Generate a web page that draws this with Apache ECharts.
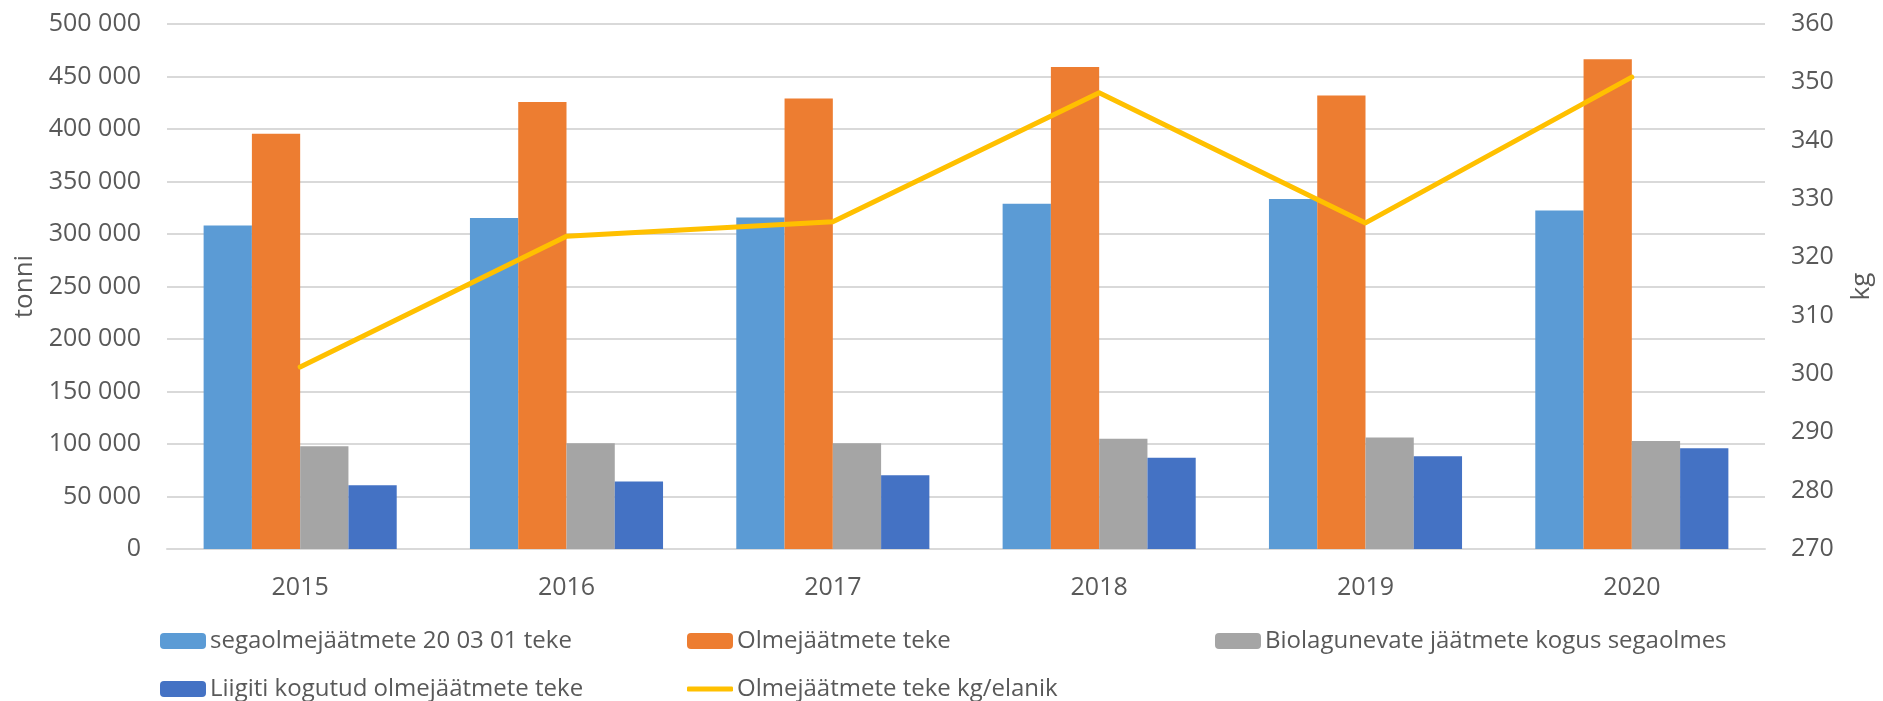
<!DOCTYPE html>
<html>
<head>
<meta charset="utf-8">
<script src="https://cdn.jsdelivr.net/npm/echarts@6/dist/echarts.min.js"></script>
<style>
html,body{margin:0;padding:0;background:#fff;}
#main{width:1883px;height:701px;}
</style>
</head>
<body>
<div id="main"></div>
<script>
const categories = ['2015', '2016', '2017', '2018', '2019', '2020'];
const segaolme = [308000, 315300, 315700, 328700, 333300, 322400];
const olme = [395500, 425800, 429000, 459000, 431900, 466400];
const bio = [97800, 100600, 100600, 104900, 106300, 102800];
const liigiti = [60700, 64300, 70300, 86900, 88300, 96000];
const kgElanik = [301.2, 323.6, 326.1, 348.2, 325.9, 350.9];

const seriesNames = [
  'segaolmejäätmete 20 03 01 teke',
  'Olmejäätmete teke',
  'Biolagunevate jäätmete kogus segaolmes',
  'Liigiti kogutud olmejäätmete teke',
  'Olmejäätmete teke kg/elanik'
];

const FONT = '"Open Sans", sans-serif';
const TXT = '#595959';
const GRID = '#d9d9d9';

function fmt(v) { return String(v).replace(/\B(?=(\d{3})+(?!\d))/g, ' '); }

function legendAt(name, left, top, extra) {
  return Object.assign({
    data: [name], left: left, top: top, padding: 0,
    itemWidth: 46, itemHeight: 16, itemGap: 0,
    textStyle: { color: TXT, fontFamily: FONT, fontSize: 24, padding: [0, 0, 0, -1] }
  }, extra || {});
}

const chart = echarts.init(document.getElementById('main'), null, { renderer: 'canvas' });
chart.setOption({
  animation: false,
  backgroundColor: '#fff',
  textStyle: { fontFamily: FONT },
  grid: { left: 167, right: 114, top: 24, bottom: 152, containLabel: false },
  legend: [
    legendAt(seriesNames[0], 160, 629),
    legendAt(seriesNames[1], 687, 629),
    legendAt(seriesNames[2], 1215, 629),
    legendAt(seriesNames[3], 160, 677),
    legendAt(seriesNames[4], 687, 677, { icon: 'roundRect', itemHeight: 5, itemWidth: 46 })
  ],
  xAxis: {
    type: 'category', data: categories,
    axisLine: { lineStyle: { color: GRID, width: 2 } },
    axisTick: { show: false },
    axisLabel: { color: TXT, fontFamily: FONT, fontSize: 25, margin: 26 }
  },
  yAxis: [
    {
      type: 'value', min: 0, max: 500000, interval: 50000,
      name: 'tonni', nameLocation: 'middle', nameRotate: 90, nameGap: 129,
      nameTextStyle: { color: TXT, fontFamily: FONT, fontSize: 26 },
      axisLine: { show: false }, axisTick: { show: false },
      axisLabel: { color: TXT, fontFamily: FONT, fontSize: 25, margin: 26, formatter: fmt },
      splitLine: { lineStyle: { color: GRID, width: 2 } }
    },
    {
      type: 'value', min: 270, max: 360, interval: 10, position: 'right',
      name: 'kg', nameLocation: 'middle', nameRotate: 90, nameGap: 84,
      nameTextStyle: { color: TXT, fontFamily: FONT, fontSize: 26 },
      axisLine: { show: false }, axisTick: { show: false },
      axisLabel: { color: TXT, fontFamily: FONT, fontSize: 25, margin: 26 },
      splitLine: { show: false }
    }
  ],
  series: [
    { name: seriesNames[0], type: 'bar', data: segaolme, itemStyle: { color: '#5b9bd5' }, barGap: '0%', barCategoryGap: '27.5%' },
    { name: seriesNames[1], type: 'bar', data: olme, itemStyle: { color: '#ed7d31' }, barGap: '0%', barCategoryGap: '27.5%' },
    { name: seriesNames[2], type: 'bar', data: bio, itemStyle: { color: '#a5a5a5' }, barGap: '0%', barCategoryGap: '27.5%' },
    { name: seriesNames[3], type: 'bar', data: liigiti, itemStyle: { color: '#4472c4' }, barGap: '0%', barCategoryGap: '27.5%' },
    {
      name: seriesNames[4], type: 'line', yAxisIndex: 1, data: kgElanik,
      symbol: 'none', showSymbol: false,
      itemStyle: { color: '#ffc000' },
      lineStyle: { color: '#ffc000', width: 5, cap: 'round', join: 'round' }
    }
  ]
});
</script>
</body>
</html>
